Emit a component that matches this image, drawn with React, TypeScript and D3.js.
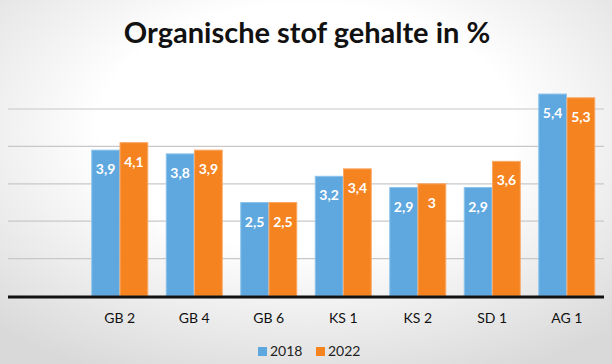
import React from "react";
import * as d3 from "d3";

const categories = ["", "GB 2", "GB 4", "GB 6", "KS 1", "KS 2", "SD 1", "AG 1"];
const values2018: (number | null)[] = [null, 3.9, 3.8, 2.5, 3.2, 2.9, 2.9, 5.4];
const values2022: (number | null)[] = [null, 4.1, 3.9, 2.5, 3.4, 3.0, 3.6, 5.3];
const seriesNames = ["2018", "2022"];
const gridTicks = [1, 2, 3, 4, 5];
const title = "Organische stof gehalte in %";

const W = 612, H = 364;
const left = 8, right = 604, base = 296;
const colors = ["#5FA8DF", "#F5831F"];
const strokes = ["#8CC3EC", "#F9A865"];

export default function App() {
  const x = d3.scaleBand<string>().domain(categories.map((c, i) => i + "")).range([left, right]).paddingInner(0).paddingOuter(0);
  const y = d3.scaleLinear().domain([0, 5]).range([base, 109]);
  const inner = d3.scaleBand<string>().domain(seriesNames).range([0, 56]).paddingInner(0.02);
  const fmt = (v: number) => String(v).replace(".", ",");
  const series = [values2018, values2022];
  return (
    <svg width={W} height={H} style={{ position: "absolute", left: 0, top: 0, fontFamily: "Lato, 'Open Sans', sans-serif" }}>
      <defs>
        <radialGradient id="bg" cx="0.5" cy="0.35" r="0.75">
          <stop offset="0" stopColor="#ffffff" />
          <stop offset="0.45" stopColor="#ffffff" />
          <stop offset="1" stopColor="#d9d9d9" />
        </radialGradient>
      </defs>
      <rect x={0} y={0} width={W} height={H} fill="url(#bg)" />
      <text x={W / 2 + 1} y={43} textAnchor="middle" fontSize={29} fontWeight={700} fill="#111">{title}</text>
      {gridTicks.map(t => (
        <line key={t} x1={left} x2={right} y1={y(t)} y2={y(t)} stroke="#c8c8c8" strokeWidth={1.2} />
      ))}
      {categories.map((c, i) => {
        const x0 = (x(i + "") as number) + x.bandwidth() / 2 - 28;
        return (
          <g key={i}>
            {series.map((s, si) => {
              const v = s[i];
              if (v == null) return null;
              const bx = x0 + (inner(seriesNames[si]) as number);
              const bw = inner.bandwidth();
              return (
                <g key={si}>
                  <rect x={bx} y={y(v)} width={bw} height={base - y(v)} fill={colors[si]} stroke={strokes[si]} strokeWidth={1} />
                  <text x={bx + bw / 2} y={y(v) + 24} textAnchor="middle" fontSize={14} fontWeight={700} fill="#fff">{fmt(v)}</text>
                </g>
              );
            })}
            <text x={(x(i + "") as number) + x.bandwidth() / 2} y={323} textAnchor="middle" fontSize={14} fill="#111" fontFamily="Lato, 'Liberation Sans', Arial, sans-serif">{c}</text>
          </g>
        );
      })}
      <line x1={left} x2={right} y1={base + 1} y2={base + 1} stroke="#111" strokeWidth={3} />
      {seriesNames.map((n, i) => (
        <g key={n} transform={`translate(${258 + i * 58},0)`}>
          <rect x={0} y={347} width={9} height={9} fill={colors[i]} />
          <text x={12} y={356} fontSize={14} fill="#222" fontFamily="Lato, 'Liberation Sans', Arial, sans-serif">{n}</text>
        </g>
      ))}
    </svg>
  );
}
